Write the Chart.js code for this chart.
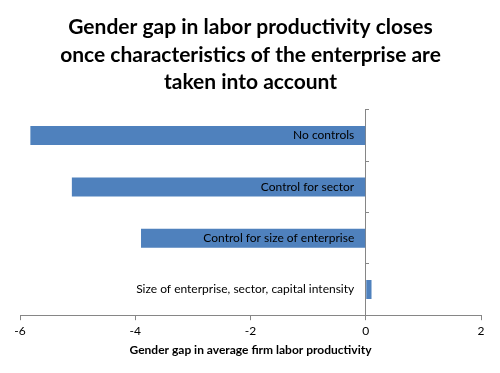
<!DOCTYPE html>
<html>
<head>
<meta charset="utf-8">
<script src="https://cdn.jsdelivr.net/npm/chart.js@4"></script>
<style>
  html, body { margin: 0; padding: 0; background: #fff; }
  #wrap { width: 500px; height: 373px; }
</style>
</head>
<body>
<div id="wrap"><canvas id="myChart"></canvas></div>
<script>
var categories = [
    "No controls",
    "Control for sector",
    "Control for size of enterprise",
    "Size of enterprise, sector, capital intensity"
];
var gapValues = [-5.82, -5.1, -3.9, 0.1];
var xTicks = [-6, -4, -2, 0, 2];
var titleLines = [
    "Gender gap in labor productivity closes",
    "once characteristics of the enterprise are",
    "taken into account"
];
var xTitle = "Gender gap in average firm labor productivity";

function chart() {
    var axisGray = "#868686";
    var ctx = document.getElementById("myChart");
    var myChart = new Chart(ctx, {
        type: 'bar',
        data: {
            labels: categories,
            datasets: [{
                data: gapValues,
                backgroundColor: "#4F81BD",
                borderWidth: 0,
                barPercentage: 0.37,
                categoryPercentage: 1
            }]
        },
        options: {
            indexAxis: 'y',
            responsive: true,
            maintainAspectRatio: false,
            animation: false,
            layout: {
                padding: { left: 20, right: 19, top: 0, bottom: 16 }
            },
            plugins: {
                legend: { display: false },
                tooltip: { enabled: false },
                title: {
                    display: true,
                    text: titleLines,
                    color: "#000",
                    font: { family: "Lato", size: 21, weight: "bold", lineHeight: 1.3 },
                    padding: { top: 14, bottom: 14 }
                }
            },
            scales: {
                x: {
                    type: 'linear',
                    min: -6,
                    max: 2,
                    afterBuildTicks: function(scale) {
                        scale.ticks = xTicks.map(function(v) { return { value: v }; });
                    },
                    grid: {
                        drawOnChartArea: false,
                        drawTicks: true,
                        tickLength: 5,
                        color: axisGray
                    },
                    border: { display: true, color: axisGray, width: 1 },
                    ticks: {
                        color: "#000",
                        font: { family: "Lato", size: 12 },
                        padding: 4
                    },
                    title: {
                        display: true,
                        text: xTitle,
                        color: "#000",
                        font: { family: "Lato", size: 12, weight: "bold" },
                        padding: { top: 0, bottom: 0 }
                    }
                },
                y: {
                    type: 'category',
                    position: { x: 0 },
                    offset: true,
                    ticks: { display: false },
                    grid: {
                        offset: true,
                        drawOnChartArea: false,
                        drawTicks: true,
                        tickLength: -4,
                        color: axisGray
                    },
                    border: { display: true, color: axisGray, width: 1 }
                },
                yl: {
                    axis: 'y',
                    type: 'category',
                    position: { x: -0.2 },
                    offset: true,
                    grid: { display: false },
                    border: { display: false },
                    ticks: {
                        z: 1,
                        color: "#000",
                        font: { family: "Lato", size: 12 }
                    }
                }
            }
        }
    });
}

chart();
</script>
</body>
</html>
